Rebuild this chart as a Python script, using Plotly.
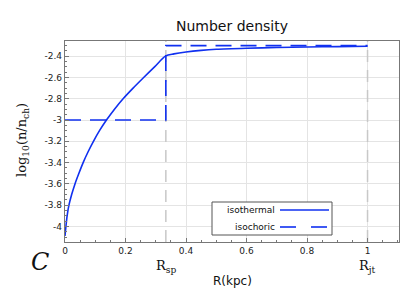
import plotly.graph_objects as go

# Data
iso_x = [0.0, 0.003, 0.007, 0.013, 0.022, 0.033, 0.046, 0.060, 0.076, 0.094, 0.114, 0.137, 0.163, 0.192,
         0.225, 0.26, 0.296, 0.333, 0.36, 0.4, 0.45, 0.5, 0.6, 0.7, 0.8, 0.9, 1.0]
iso_y = [-4.09, -4.0, -3.9, -3.8, -3.7, -3.6, -3.5, -3.4, -3.3, -3.2, -3.1, -3.0, -2.9, -2.8,
         -2.7, -2.6, -2.5, -2.397, -2.378, -2.36, -2.345, -2.335, -2.325, -2.318, -2.313, -2.31, -2.307]
chor_x = [0.0, 0.3333, 0.3333, 1.0]
chor_y = [-3.0, -3.0, -2.3, -2.3]
r_sp = 0.3333
r_jt = 1.0
x_ticks = [0, 0.2, 0.4, 0.6, 0.8, 1]
x_labels = ["0", "0.2", "0.4", "0.6", "0.8", "1"]
y_ticks = [-4, -3.8, -3.6, -3.4, -3.2, -3, -2.8, -2.6, -2.4]
y_labels = ["-4", "-3.8", "-3.6", "-3.4", "-3.2", "-3", "-2.8", "-2.6", "-2.4"]

BLUE = "#1030f0"
GRAY = "#c8c8c8"

fig = go.Figure()
for xv in [r_sp, r_jt]:
    fig.add_trace(go.Scatter(x=[xv, xv], y=[-4.146, -2.257], mode="lines",
                             line=dict(color=GRAY, width=1.5, dash="12px,8px"),
                             showlegend=False, hoverinfo="skip"))
fig.add_trace(go.Scatter(x=iso_x, y=iso_y, mode="lines", line=dict(color=BLUE, width=1.6, shape="spline", smoothing=0.8),
                         showlegend=False))
fig.add_trace(go.Scatter(x=chor_x, y=chor_y, mode="lines", line=dict(color=BLUE, width=1.6, dash="16px,9px"),
                         showlegend=False))

axis_common = dict(showline=True, linecolor="#777", linewidth=1.2, mirror=True,
                   showgrid=True, gridcolor="#e4e4e4", gridwidth=1,
                   ticks="inside", ticklen=4, tickcolor="#777", zeroline=False,
                   tickfont=dict(family="DejaVu Sans", size=9, color="#222"))
fig.update_xaxes(range=[0, 1.104], tickvals=x_ticks, ticktext=x_labels,
                 minor=dict(dtick=0.05, ticks="inside", ticklen=2, tickcolor="#777", showgrid=False),
                 **axis_common)
fig.update_yaxes(range=[-4.146, -2.257], tickvals=y_ticks, ticktext=y_labels,
                 minor=dict(dtick=0.05, ticks="inside", ticklen=2, tickcolor="#777", showgrid=False),
                 **axis_common)

L, R, T, B = 65, 16, 41, 50
W, H = 415, 292
pw, ph = W - L - R, H - T - B
def px(x): return (x - L) / pw
def py(y): return (H - B - y) / ph

def txt(text, x, y, size, family="DejaVu Sans", xref="paper", xanchor="center", angle=0):
    return dict(text=text, x=x, y=y, xref=xref, yref="paper", showarrow=False,
                xanchor=xanchor, yanchor="middle", textangle=angle,
                font=dict(family=family, size=size, color="#111"))

ann = [
    txt("Number density", px(232), py(26), 14),
    txt("log<sub>10</sub>(n/n<sub>ch</sub>)", px(22), py(140), 13, family="DejaVu Serif", angle=-90),
    txt("R(kpc)", px(232), py(281), 12),
    txt("R<sub>sp</sub>", r_sp, py(266), 13, family="DejaVu Serif", xref="x"),
    txt("R<sub>jt</sub>", r_jt, py(266), 13, family="DejaVu Serif", xref="x"),
    txt("<i>C</i>", px(40), py(262), 24, family="DejaVu Serif"),
    txt("isothermal", px(277), py(210), 9, xanchor="right"),
    txt("isochoric", px(277), py(227), 9, xanchor="right"),
]
shapes = [
    dict(type="rect", xref="paper", yref="paper", x0=px(212), x1=px(332), y0=py(235), y1=py(202),
         line=dict(color="#555", width=1), fillcolor="white", layer="above"),
    dict(type="line", xref="paper", yref="paper", x0=px(280), x1=px(329), y0=py(210), y1=py(210),
         line=dict(color=BLUE, width=1.6), layer="above"),
    dict(type="line", xref="paper", yref="paper", x0=px(280), x1=px(296), y0=py(227), y1=py(227),
         line=dict(color=BLUE, width=1.6), layer="above"),
    dict(type="line", xref="paper", yref="paper", x0=px(311), x1=px(327), y0=py(227), y1=py(227),
         line=dict(color=BLUE, width=1.6), layer="above"),
]

fig.update_layout(width=W, height=H, margin=dict(l=L, r=R, t=T, b=B, autoexpand=False),
                  paper_bgcolor="white", plot_bgcolor="white",
                  annotations=ann, shapes=shapes, showlegend=False)
fig.write_html("out.html", config={"displayModeBar": False},
               post_script="document.body.style.margin='0';document.body.style.overflow='hidden';")
